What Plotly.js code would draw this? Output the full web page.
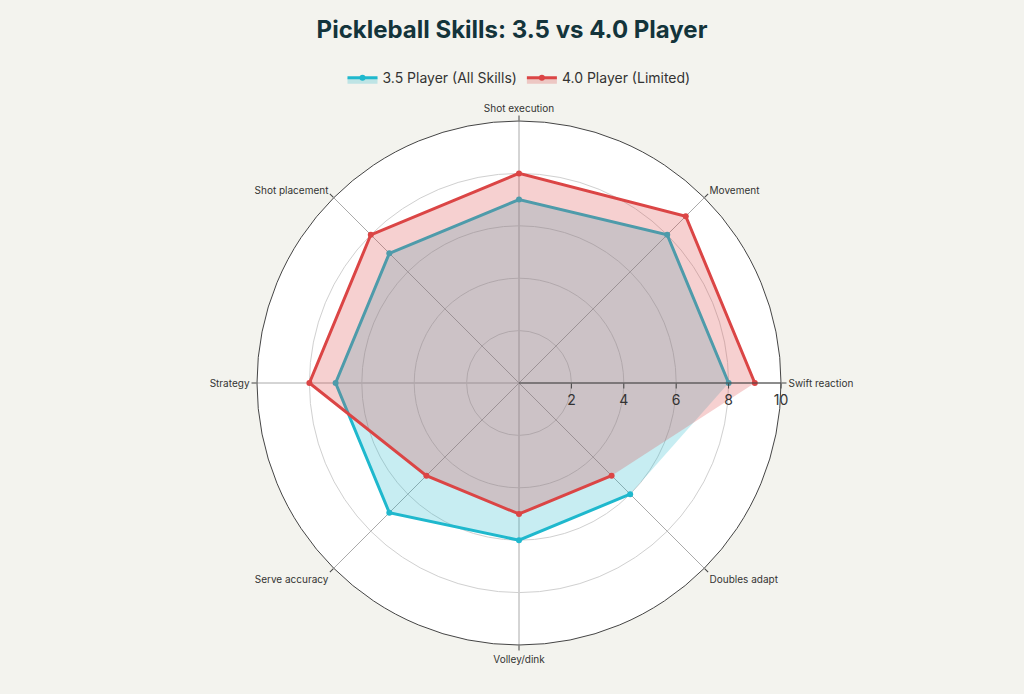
<!DOCTYPE html>
<html>
<head>
<meta charset="utf-8">
<script src="https://cdn.plot.ly/plotly-3.0.1.min.js"></script>
<style>
  html, body { margin: 0; padding: 0; background: #F3F3EE; }
  #chart { width: 1024px; height: 694px; }
</style>
</head>
<body>
<div id="chart"></div>
<script>
// Skill categories (counterclockwise from east)
var skills = ['Swift reaction', 'Movement', 'Shot execution', 'Shot placement',
              'Strategy', 'Serve accuracy', 'Volley/dink', 'Doubles adapt'];

// Ratings
var player35 = [8, 8, 7, 7, 7, 7, 6, 6];
var player40 = [9, 9, 8, 8, 8, 5, 5, 5];

// Series names
var name35 = '3.5 Player (All Skills)';
var name40 = '4.0 Player (Limited)';

var radialTicks = [2, 4, 6, 8, 10];

var data = [
    {
        type: 'scatterpolar',
        r: player35,
        theta: skills,
        name: name35,
        mode: 'lines+markers',
        fill: 'toself',
        fillcolor: 'rgba(31,184,205,0.25)',
        line: {color: '#1FB8CD', width: 3},
        marker: {color: '#1FB8CD', size: 6}
    },
    {
        type: 'scatterpolar',
        r: player40,
        theta: skills,
        name: name40,
        mode: 'lines+markers',
        fill: 'toself',
        fillcolor: 'rgba(219,69,69,0.25)',
        line: {color: '#DB4545', width: 3},
        marker: {color: '#DB4545', size: 6}
    }
];

var layout = {
    width: 1024,
    height: 694,
    paper_bgcolor: '#F3F3EE',
    font: {family: 'Inter, "Open Sans", sans-serif', color: '#333333'},
    margin: {l: 80, r: 66, t: 121, b: 49},
    title: {
        text: '<b>Pickleball Skills: 3.5 vs 4.0 Player</b>',
        x: 0.5,
        xanchor: 'center',
        y: 0.957,
        yanchor: 'middle',
        font: {size: 24, color: '#13343B'}
    },
    showlegend: true,
    legend: {
        orientation: 'h',
        x: 0.5,
        xanchor: 'center',
        y: 1.082,
        yanchor: 'middle',
        bgcolor: 'rgba(0,0,0,0)',
        font: {size: 14, color: '#333333'}
    },
    polar: {
        bgcolor: '#FFFFFF',
        radialaxis: {
            range: [0, 10],
            tickvals: radialTicks,
            angle: 0,
            tickangle: 0,
            side: 'clockwise',
            showline: true,
            linecolor: '#444444',
            linewidth: 1,
            gridcolor: '#D0D0D0',
            ticks: 'outside',
            ticklen: 5,
            tickcolor: '#444444',
            tickfont: {size: 14, color: '#333333'}
        },
        angularaxis: {
            rotation: 0,
            direction: 'counterclockwise',
            linecolor: '#444444',
            linewidth: 1,
            gridcolor: '#AAAAAA',
            ticks: 'outside',
            ticklen: 5,
            tickcolor: '#444444',
            tickfont: {size: 10, color: '#333333'}
        }
    }
};

Plotly.newPlot('chart', data, layout, {displayModeBar: false});
</script>
</body>
</html>
